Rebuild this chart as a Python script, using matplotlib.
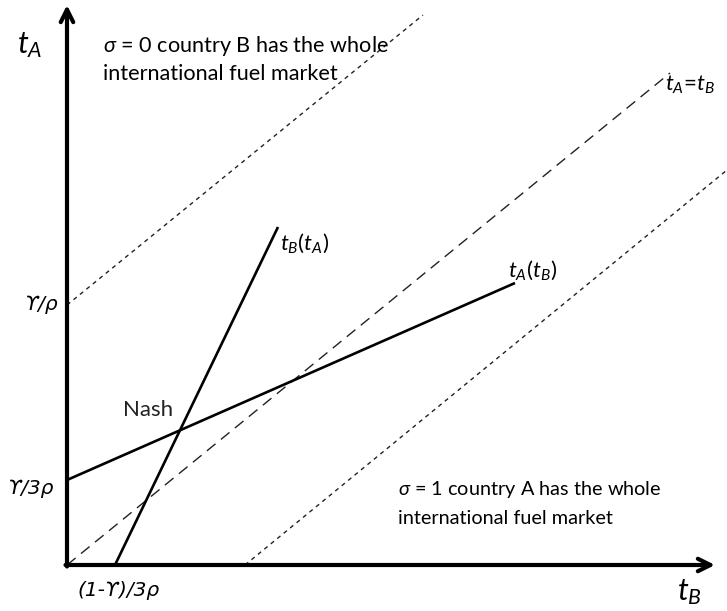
import matplotlib
matplotlib.use("Agg")
import matplotlib.pyplot as plt

plt.rcParams['font.family'] = ['Lato', 'DejaVu Sans']
plt.rcParams['mathtext.fontset'] = 'custom'
plt.rcParams['mathtext.it'] = 'Lato:italic'
plt.rcParams['mathtext.rm'] = 'Lato'

# diagram coordinates: origin at the axes corner, y up
axis_x_len = 648
axis_y_len = 560

# 45-degree-ish reference lines (start, end)
diag_equal = ([0, 603], [0, 492])        # tA = tB
diag_sigma0 = ([0, 356], [260, 550])     # sigma = 0 boundary
diag_sigma1 = ([178, 660], [0, 395])     # sigma = 1 boundary

# reaction functions
react_tA = ([0, 448], [85, 282])         # tA(tB)
react_tB = ([48, 211], [0, 338])         # tB(tA)

fig = plt.figure(figsize=(7.27, 6.11), dpi=100)
ax = fig.add_axes([0, 0, 1, 1])
ax.set_xlim(-67, 660)
ax.set_ylim(-46, 565)
ax.axis('off')

# axes with open arrow heads
arrow = dict(arrowstyle='->,head_length=0.9,head_width=0.45', lw=3, color='black',
             shrinkA=0, shrinkB=0)
ax.annotate('', xy=(axis_x_len, 0), xytext=(-1.5, 0), arrowprops=arrow)
ax.annotate('', xy=(0, axis_y_len), xytext=(0, -1.5), arrowprops=arrow)

ax.plot(*diag_equal, color='#222222', lw=1.0, ls=(0, (8, 5)))
ax.plot(*diag_sigma0, color='#222222', lw=1.0, ls=(0, (3, 3)))
ax.plot(*diag_sigma1, color='#222222', lw=1.0, ls=(0, (3, 3)))

ax.plot(*react_tA, color='black', lw=1.9, solid_capstyle='butt')
ax.plot(*react_tB, color='black', lw=1.9, solid_capstyle='butt')

fs = 16
ax.text(-37, 520, r'$t_A$', fontsize=22, ha='center', va='center')
ax.text(622, -27, r'$t_B$', fontsize=22, ha='center', va='center')

ax.text(36, 506, '$\\sigma$ = 0 country B has the whole\ninternational fuel market',
        fontsize=15.6, ha='left', va='center', linespacing=1.33)
ax.text(331, 62, '$\\sigma$ = 1 country A has the whole\ninternational fuel market',
        fontsize=14.3, ha='left', va='center', linespacing=1.65)

ax.text(623, 480, r'$t_A$=$t_B$', fontsize=fs, ha='center', va='center')
ax.text(213, 322, r'$t_B$($t_A$)', fontsize=fs, ha='left', va='center')
ax.text(441, 295, r'$t_A$($t_B$)', fontsize=fs, ha='left', va='center')
ax.text(56, 155, 'Nash', fontsize=fs, ha='left', va='center', color='#222222')

lab = dict(fontsize=14.5, fontstyle='italic', family=['DejaVu Sans'], va='center')
ax.text(-26, 260, 'ϒ/ρ', ha='center', **lab)
ax.text(-37, 77, 'ϒ/3ρ', ha='center', **lab)
ax.text(52, -25, '(1-ϒ)/3ρ', ha='center', **lab)

fig.savefig('out.png', dpi=100)
